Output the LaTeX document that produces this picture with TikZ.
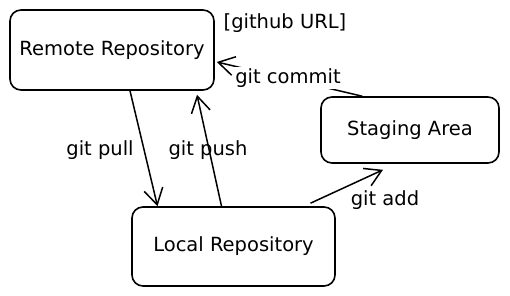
\documentclass[tikz,border=0pt]{standalone}
\usepackage{fontspec}
\setmainfont{DejaVu Sans}
\usetikzlibrary{arrows.meta}
\begin{document}
\begin{tikzpicture}[x=1pt,y=-1pt,
  box/.style={draw, line width=1.6pt, rounded corners=11pt, inner sep=0pt, font=\fontsize{19.5}{22}\selectfont},
  lbl/.style={font=\fontsize{19.5}{22}\selectfont, inner sep=0pt},
  arr/.style={line width=1.5pt, -{Straight Barb[length=16pt,width=19pt,line width=1.5pt]}}]
\useasboundingbox (0,0) rectangle (510,296);
\node[box, minimum width=204pt, minimum height=80pt] (remote) at (112,50) {Remote Repository};
\node[box, minimum width=178pt, minimum height=66pt] (staging) at (410,130) {Staging Area};
\node[box, minimum width=203pt, minimum height=79pt] (local) at (233.5,246.5) {Local Repository};
\draw[arr] ([xshift=18pt]remote.south) -- ([xshift=-76pt]local.north);
\draw[arr] ([xshift=-12pt]local.north) -- ([xshift=85pt,yshift=-4pt]remote.south);
\draw[arr] ([xshift=42pt]staging.north west) -- ([xshift=2pt,yshift=-12pt]remote.east);
\draw[arr] ([xshift=77pt,yshift=3pt]local.north) -- ([xshift=-27pt,yshift=-6pt]staging.south);
\node[lbl] (url) at (285,23) {[github URL]};
\node[lbl] (pull) at (100,150) {git pull};
\node[lbl] (push) at (208,150) {git push};
\node[lbl, fill=white, inner sep=2pt] (commit) at (288,78) {git commit};
\node[lbl] (add) at (385,200) {git add};
\end{tikzpicture}
\end{document}
